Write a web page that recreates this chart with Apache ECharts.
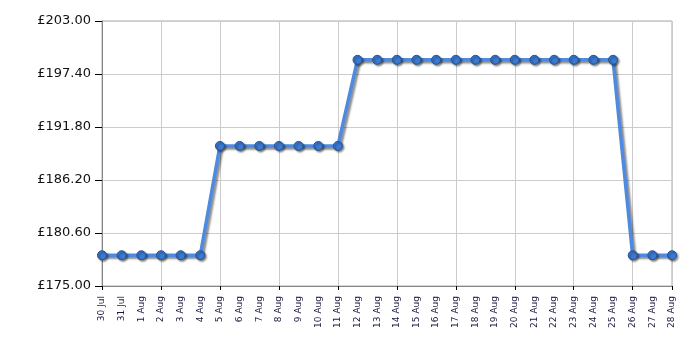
<!DOCTYPE html>
<html>
<head>
<meta charset="utf-8">
<script src="https://cdn.jsdelivr.net/npm/echarts@6/dist/echarts.min.js"></script>
<style>html,body{margin:0;padding:0;background:#fff;}#c{width:700px;height:350px;}</style>
</head>
<body>
<div id="c"></div>
<script>
var categories = ['30 Jul','31 Jul','1 Aug','2 Aug','3 Aug','4 Aug','5 Aug','6 Aug','7 Aug','8 Aug','9 Aug','10 Aug','11 Aug','12 Aug','13 Aug','14 Aug','15 Aug','16 Aug','17 Aug','18 Aug','19 Aug','20 Aug','21 Aug','22 Aug','23 Aug','24 Aug','25 Aug','26 Aug','27 Aug','28 Aug'];
var prices = [178.25,178.25,178.25,178.25,178.25,178.25,189.8,189.8,189.8,189.8,189.8,189.8,189.8,198.9,198.9,198.9,198.9,198.9,198.9,198.9,198.9,198.9,198.9,198.9,198.9,198.9,198.9,178.25,178.25,178.25];
var yMin = 175, yMax = 203, yStep = 5.6;

var chart = echarts.init(document.getElementById('c'), null, {renderer:'canvas'});
chart.setOption({
  animation: false,
  grid: {left:102, right:28, top:21, bottom:64, show:true, borderColor:'#aaa', borderWidth:1},
  xAxis: {
    type:'category', data:categories, boundaryGap:false,
    axisLine:{lineStyle:{color:'#888', width:1}},
    axisTick:{interval:2, length:4, lineStyle:{color:'#000'}},
    splitLine:{show:true, interval:2, lineStyle:{color:'#ccc', width:1}},
    axisLabel:{interval:0, rotate:90, fontSize:9, fontFamily:'DejaVu Sans', color:'#1a1a40', margin:10}
  },
  yAxis: {
    type:'value', min:yMin, max:yMax, interval:yStep,
    axisLine:{show:true, lineStyle:{color:'#888', width:1}},
    axisTick:{show:true, length:7, lineStyle:{color:'#000'}},
    splitLine:{show:true, lineStyle:{color:'#ccc', width:1}},
    axisLabel:{fontSize:13, fontFamily:'DejaVu Sans', color:'#111', margin:11,
      formatter:function(v){return '£' + v.toFixed(2);}}
  },
  series: [{
    type:'line', data:prices, symbol:'circle', symbolSize:9,
    lineStyle:{color:'#4d8ae0', width:3.5, shadowColor:'rgba(0,0,0,0.45)', shadowBlur:2, shadowOffsetX:2, shadowOffsetY:2},
    itemStyle:{color:'#3b79d2', borderColor:'#25548f', borderWidth:1, shadowColor:'rgba(0,0,0,0.45)', shadowBlur:2, shadowOffsetX:1.5, shadowOffsetY:1.5}
  }]
});
</script>
</body>
</html>
